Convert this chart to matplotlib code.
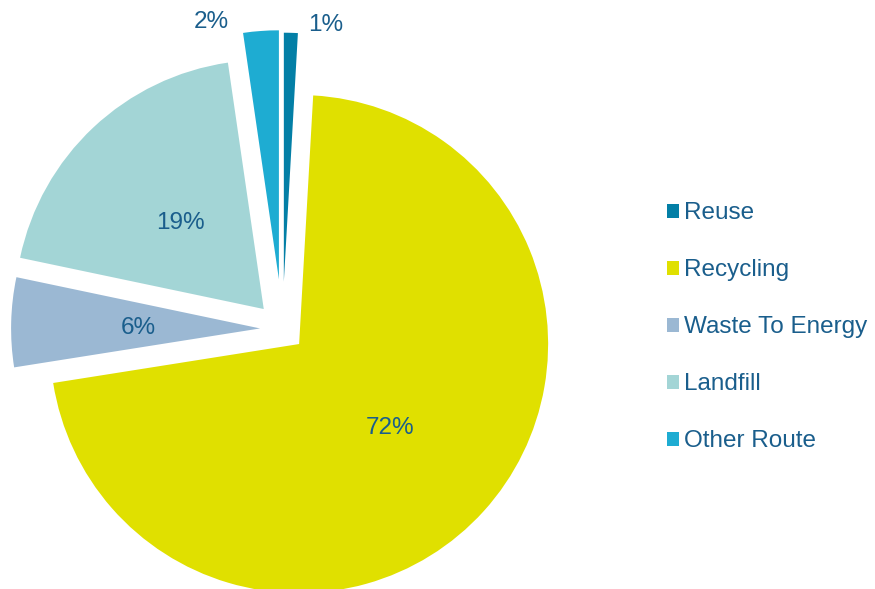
import matplotlib.pyplot as plt
import numpy as np

plt.rcParams['font.family'] = ['Liberation Sans', 'DejaVu Sans']

categories = ['Reuse', 'Recycling', 'Waste To Energy', 'Landfill', 'Other Route']
shares = [0.9, 71.6, 5.8, 19.4, 2.3]
colors = ['#037fa6', '#e0e000', '#9bb8d3', '#a3d5d6', '#1eacd2']
explode = [0.19, 0.09, 0.09, 0.11, 0.2]
text_color = '#1a5e8c'

fig = plt.figure(figsize=(8.75, 5.89), dpi=100)
ax = fig.add_axes([0, 0, 1, 1])

wedges, texts, autotexts = ax.pie(shares, colors=colors, explode=explode,
                                  startangle=90, counterclock=False,
                                  autopct='%.0f%%', pctdistance=0.49,
                                  wedgeprops=dict(linewidth=0),
                                  textprops=dict(color=text_color, fontsize=17.5))
for t in autotexts:
    t.set_va('center_baseline')

# small slices get their labels outside, next to the wedge
outside = {0: (-7.5, 1.055), 4: (10.5, 1.08)}
for i, (shift, dist) in outside.items():
    w = wedges[i]
    ang = np.deg2rad((w.theta1 + w.theta2) / 2 + shift)
    cx, cy = w.center
    autotexts[i].set_position((cx + dist * np.cos(ang), cy + dist * np.sin(ang)))

ax.set_xlim(-282.5 / 249, (875 - 282.5) / 249)
ax.set_ylim(-260 / 249, (589 - 260) / 249)
ax.set_aspect('auto')
ax.axis('off')

leg = ax.legend(wedges, categories, loc='center left', bbox_to_anchor=(0.762, 0.444),
                bbox_transform=fig.transFigure, frameon=False, fontsize=17.5,
                handlelength=0.5, handleheight=0.5, handletextpad=0.2,
                labelspacing=1.44, borderpad=0, borderaxespad=0)
for t in leg.get_texts():
    t.set_color(text_color)

fig.savefig('out.png', dpi=100)
